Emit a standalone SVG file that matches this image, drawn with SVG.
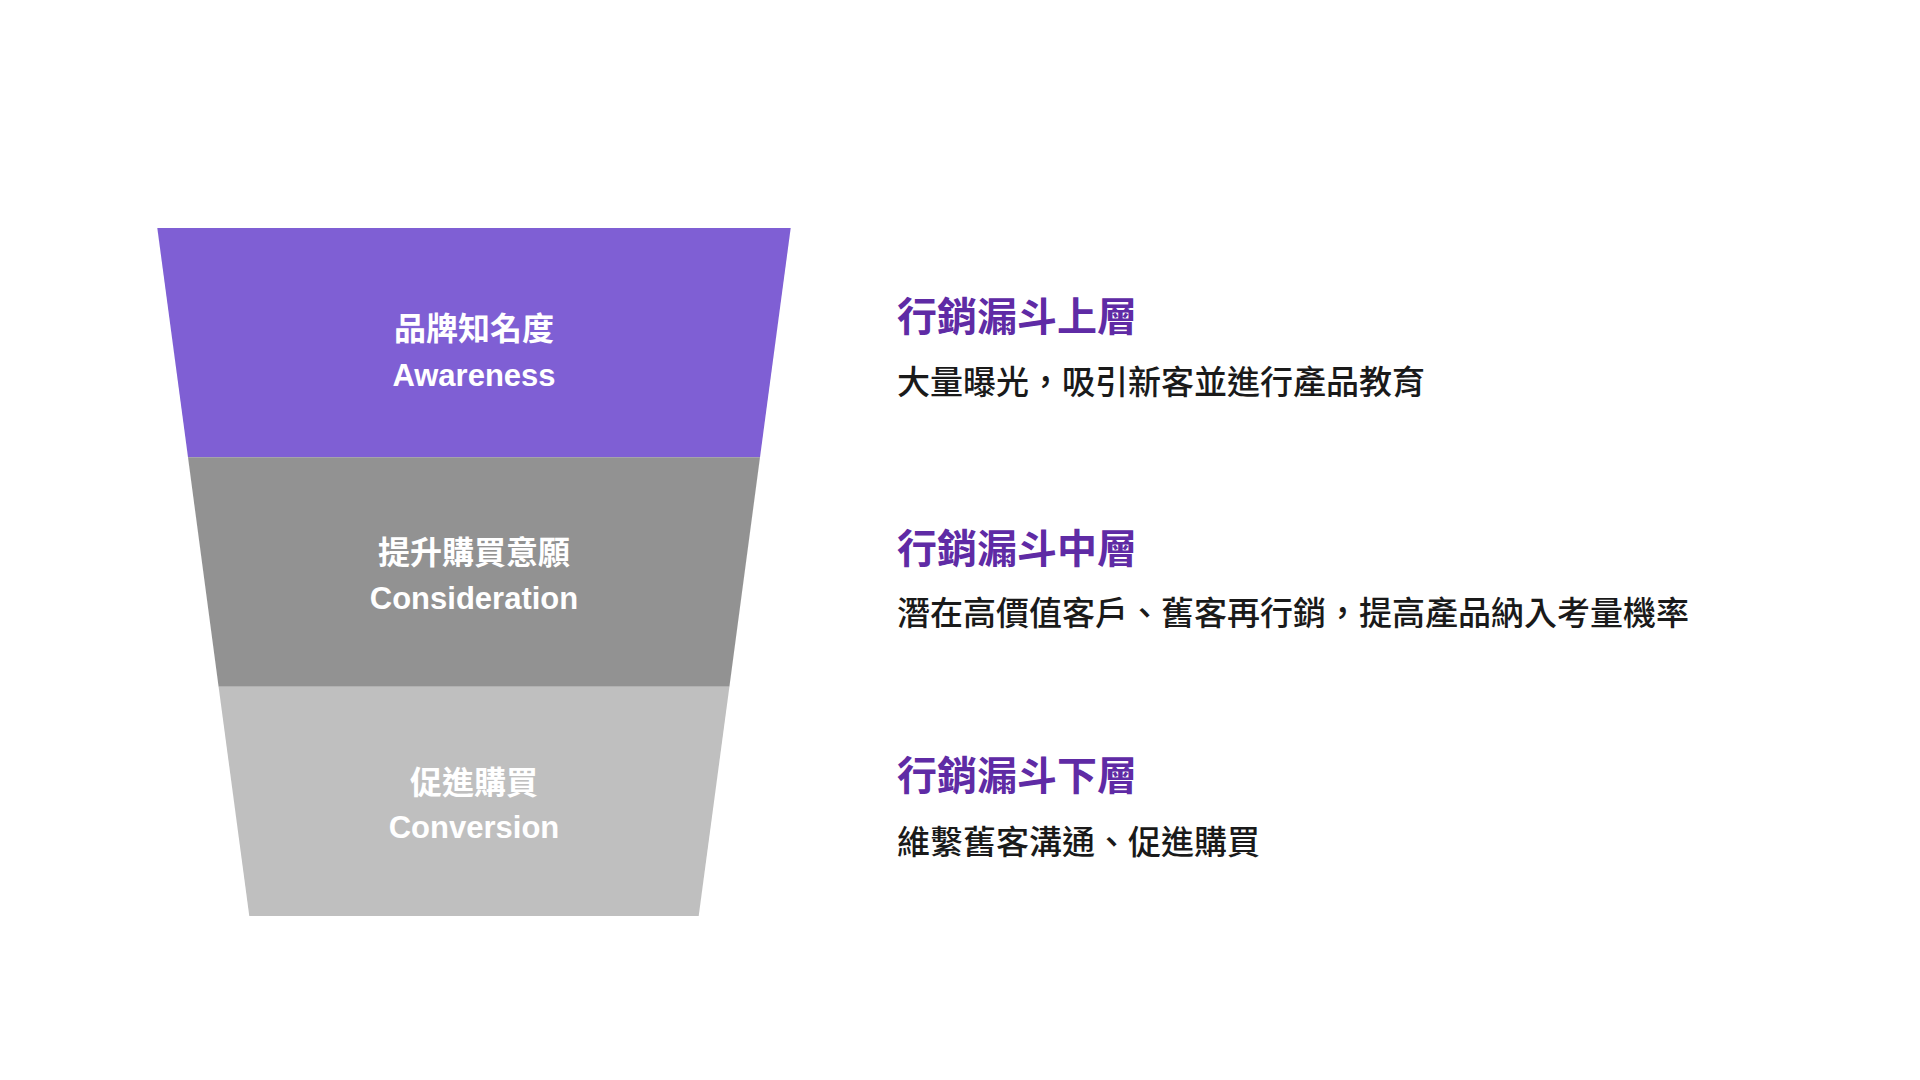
<svg xmlns="http://www.w3.org/2000/svg" width="1920" height="1080" viewBox="0 0 1920 1080">
  <style>
    .band-label { font-family: "Liberation Sans", "Noto Sans CJK TC", sans-serif; fill: #ffffff; text-anchor: middle; font-weight: bold; }
    .zh { font-size: 32px; }
    .en { font-size: 31px; }
    .title { font-family: "Liberation Sans", "Noto Sans CJK TC", sans-serif; font-size: 40px; font-weight: bold; fill: #5f2ba5; }
    .desc { font-family: "Liberation Sans", "Noto Sans CJK TC", sans-serif; font-size: 33px; font-weight: 500; fill: #1a1a1a; }
  </style>
  <rect width="1920" height="1080" fill="#ffffff"/>
  <g id="awareness">
    <polygon points="157.3,228 790.7,228 760,457.3 188,457.3" fill="#7f5fd4"/>
    <text class="band-label zh" x="474" y="340">品牌知名度</text>
    <text class="band-label en" x="474" y="385.5">Awareness</text>
  </g>
  <g id="consideration">
    <polygon points="188,457.3 760,457.3 729.4,686.7 218.6,686.7" fill="#929292"/>
    <text class="band-label zh" x="474" y="564">提升購買意願</text>
    <text class="band-label en" x="474" y="609">Consideration</text>
  </g>
  <g id="conversion">
    <polygon points="218.6,686.7 729.4,686.7 698.7,916 249.3,916" fill="#bfbfbf"/>
    <text class="band-label zh" x="474" y="793.5">促進購買</text>
    <text class="band-label en" x="474" y="838">Conversion</text>
  </g>
  <g id="top-layer">
    <text class="title" x="897" y="331">行銷漏斗上層</text>
    <text class="desc" x="897" y="394">大量曝光，吸引新客並進行產品教育</text>
  </g>
  <g id="middle-layer">
    <text class="title" x="897" y="562.5">行銷漏斗中層</text>
    <text class="desc" x="897" y="625">潛在高價值客戶、舊客再行銷，提高產品納入考量機率</text>
  </g>
  <g id="bottom-layer">
    <text class="title" x="897" y="790">行銷漏斗下層</text>
    <text class="desc" x="897" y="854">維繫舊客溝通、促進購買</text>
  </g>
  <g id="connectors"></g>
</svg>
